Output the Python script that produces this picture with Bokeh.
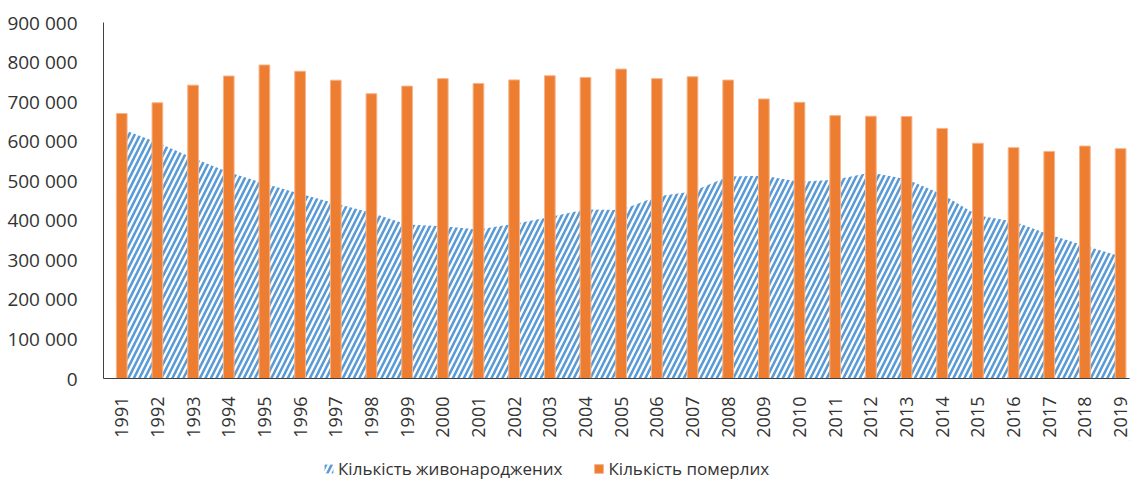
from bokeh.plotting import figure
from bokeh.models import Range1d, FixedTicker, Legend, LegendItem
from bokeh.layouts import column
from bokeh.embed import file_html
from bokeh.resources import INLINE
import math

years = list(range(1991, 2020))
births = [630813, 596785, 557467, 521545, 492861, 467211, 442581, 419238, 389208, 385126,
          376479, 390688, 408589, 427259, 426086, 460368, 472657, 510589, 512525, 497689,
          502595, 520705, 503657, 465882, 411781, 397037, 363987, 335874, 308817]
deaths = [669960, 697110, 741662, 764669, 792587, 776717, 754151, 719954, 739170, 758082,
          745952, 754911, 765408, 761263, 782189, 758093, 762877, 754460, 706739, 698235,
          664588, 663139, 662368, 632296, 594796, 583631, 574123, 587665, 581114]
y_ticks = [0, 100000, 200000, 300000, 400000, 500000, 600000, 700000, 800000, 900000]
y_tick_labels = ["0", "100 000", "200 000", "300 000", "400 000", "500 000",
                 "600 000", "700 000", "800 000", "900 000"]
series_names = ["Кількість живонароджених", "Кількість померлих"]

FONT = "Open Sans"
TXT = "#333333"
BLUE = "#5B9BD5"
ORANGE = "#ED7D31"
HATCH = dict(hatch_pattern="/", hatch_color=BLUE, hatch_scale=11, hatch_weight=2.6)

p = figure(width=1131, height=440, output_backend="svg", toolbar_location=None,
           x_range=Range1d(1990.489, 2019.25), y_range=Range1d(0, 900000),
           min_border_left=103, min_border_right=2, min_border_top=22, min_border_bottom=62)
p.outline_line_color = None
p.xgrid.visible = False
p.ygrid.visible = False

area = p.varea(x=years, y1=[0] * len(years), y2=births, fill_color="white", fill_alpha=0.0,
               **HATCH)
bars = p.vbar(x=years, top=deaths, width=0.3, fill_color=ORANGE,
              line_color="#F6B48A", line_width=1)

p.xaxis.ticker = FixedTicker(ticks=years)
p.xaxis.major_label_orientation = math.pi / 2
p.xaxis.major_label_text_font = FONT
p.xaxis.major_label_text_font_size = "18px"
p.xaxis.major_label_text_color = TXT
p.xaxis.major_tick_line_color = None
p.xaxis.minor_tick_line_color = None
p.xaxis.major_label_standoff = 12
p.xaxis.axis_line_color = "#404040"

p.yaxis.ticker = FixedTicker(ticks=y_ticks)
p.yaxis.major_label_overrides = {t: l for t, l in zip(y_ticks, y_tick_labels)}
p.yaxis.major_label_text_font = FONT
p.yaxis.major_label_text_font_size = "19px"
p.yaxis.major_label_text_color = TXT
p.yaxis.major_tick_line_color = None
p.yaxis.minor_tick_line_color = None
p.yaxis.major_label_standoff = 20
p.yaxis.axis_line_color = "#404040"

# legend strip (its sample glyphs sit outside the strip's visible ranges)
p2 = figure(width=1131, height=42, output_backend="svg", toolbar_location=None,
            x_range=Range1d(0, 1), y_range=Range1d(0, 1),
            x_axis_location=None, y_axis_location=None, min_border=0)
p2.outline_line_color = None
p2.xgrid.visible = False
p2.ygrid.visible = False
la = p2.varea(x=[5, 6], y1=[5, 5], y2=[6, 6], fill_color="white", fill_alpha=0.0, **HATCH)
lb = p2.vbar(x=[5], bottom=[5], top=[6], width=0.3, fill_color=ORANGE,
             line_color="#F6B48A", line_width=1)
legend = Legend(items=[LegendItem(label=series_names[0], renderers=[la]),
                       LegendItem(label=series_names[1], renderers=[lb])],
                location=(220, 2), orientation="horizontal",
                glyph_width=11, glyph_height=11, label_standoff=4, spacing=31,
                padding=2, margin=0, border_line_color=None, background_fill_alpha=0,
                label_text_font=FONT, label_text_font_size="17px", label_text_color=TXT)
p2.add_layout(legend, "center")

open("out.html", "w").write(file_html(column(p, p2, spacing=0), INLINE))
